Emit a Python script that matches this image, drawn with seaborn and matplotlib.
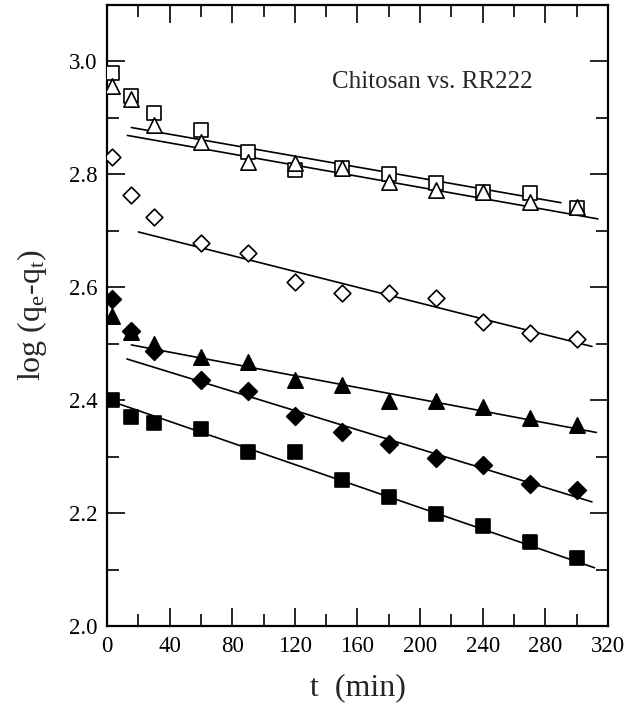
import matplotlib
matplotlib.use("Agg")
import matplotlib.pyplot as plt
import seaborn as sns
import numpy as np
import pandas as pd
from matplotlib.ticker import MultipleLocator

# ---- data ----
t = [3, 15, 30, 60, 90, 120, 150, 180, 210, 240, 270, 300]
open_square = [2.980, 2.938, 2.909, 2.879, 2.840, 2.808, 2.811, 2.800, 2.784, 2.769, 2.767, 2.740]
open_triangle = [2.957, 2.933, 2.888, 2.858, 2.822, 2.820, 2.811, 2.787, 2.772, 2.769, 2.751, 2.742]
open_diamond = [2.831, 2.763, 2.725, 2.679, 2.660, 2.609, 2.590, 2.589, 2.581, 2.538, 2.519, 2.509]
filled_triangle = [2.550, 2.520, 2.500, 2.476, 2.467, 2.436, 2.427, 2.399, 2.399, 2.388, 2.369, 2.356]
filled_diamond = [2.580, 2.523, 2.487, 2.435, 2.416, 2.372, 2.344, 2.322, 2.298, 2.285, 2.252, 2.241]
filled_square = [2.400, 2.370, 2.360, 2.349, 2.309, 2.309, 2.258, 2.229, 2.198, 2.178, 2.149, 2.120]

series_names = ["open_square", "open_triangle", "open_diamond",
                "filled_triangle", "filled_diamond", "filled_square"]
series_values = [open_square, open_triangle, open_diamond,
                 filled_triangle, filled_diamond, filled_square]

# linear fit lines: start t, end t, intercept, slope
fit_start = [15.5, 13.0, 20.0, 15.5, 12.7, 3.0]
fit_end = [290.0, 313.6, 309.8, 312.6, 309.8, 311.5]
fit_intercept = [2.8905, 2.8754, 2.712, 2.506, 2.4838, 2.4006]
fit_slope = [-4.85e-4, -4.92e-4, -7.0e-4, -5.22e-4, -8.52e-4, -9.55e-4]

x_ticks = [0, 40, 80, 120, 160, 200, 240, 280, 320]
y_ticks = [2.0, 2.2, 2.4, 2.6, 2.8, 3.0]
annotation = "Chitosan vs. RR222"

# ---- style ----
sns.set_style("ticks")
plt.rcParams["font.family"] = ["Liberation Serif", "DejaVu Serif"]
plt.rcParams["mathtext.fontset"] = "custom"
plt.rcParams["mathtext.rm"] = "Liberation Serif"
plt.rcParams["mathtext.it"] = "Liberation Serif:italic"

fig = plt.figure(figsize=(6.28, 7.16), dpi=100)
ax = fig.add_axes([0.1705, 0.1257, 0.7975, 0.8673])

markers = {"open_square": ("s", "white", 10.0),
           "open_triangle": ("^", "white", 11.0),
           "open_diamond": ("D", "white", 8.5),
           "filled_triangle": ("^", "black", 11.0),
           "filled_diamond": ("D", "black", 9.0),
           "filled_square": ("s", "black", 10.0)}

# fit lines
for name, s0, s1, b, m in zip(series_names, fit_start, fit_end, fit_intercept, fit_slope):
    xs = np.array([s0, s1])
    dfl = pd.DataFrame({"t": xs, "y": b + m * xs})
    sns.lineplot(data=dfl, x="t", y="y", ax=ax, color="black", lw=1.2, zorder=2)

# points
for name, vals in zip(series_names, series_values):
    mk, fc, ms = markers[name]
    df = pd.DataFrame({"t": t, "y": vals})
    sns.scatterplot(data=df, x="t", y="y", ax=ax, marker=mk, s=ms ** 2,
                    facecolor=fc, edgecolor="black", linewidth=1.2, zorder=3)

ax.set_xlim(0, 320)
ax.set_ylim(2.0, 3.1)
ax.set_xticks(x_ticks)
ax.set_yticks(y_ticks)
ax.set_yticklabels([f"{v:.1f}" for v in y_ticks])
ax.xaxis.set_minor_locator(MultipleLocator(20))
ax.yaxis.set_minor_locator(MultipleLocator(0.1))
ax.tick_params(which="both", direction="in", top=True, right=True,
               labelsize=16.5, width=1.2, color="black", labelcolor="black")
ax.tick_params(which="major", length=13, pad=7)
ax.tick_params(which="minor", length=8.5)
for sp in ax.spines.values():
    sp.set_linewidth(1.6)
    sp.set_color("black")

ax.set_xlabel("t  (min)", fontsize=23, labelpad=12)
ax.set_ylabel(r"log (q$_\mathrm{e}$-q$_\mathrm{t}$)", fontsize=23, labelpad=14)
ax.text(144, 2.953, annotation, fontsize=18, ha="left", va="baseline")

fig.savefig("out.png", dpi=100)
